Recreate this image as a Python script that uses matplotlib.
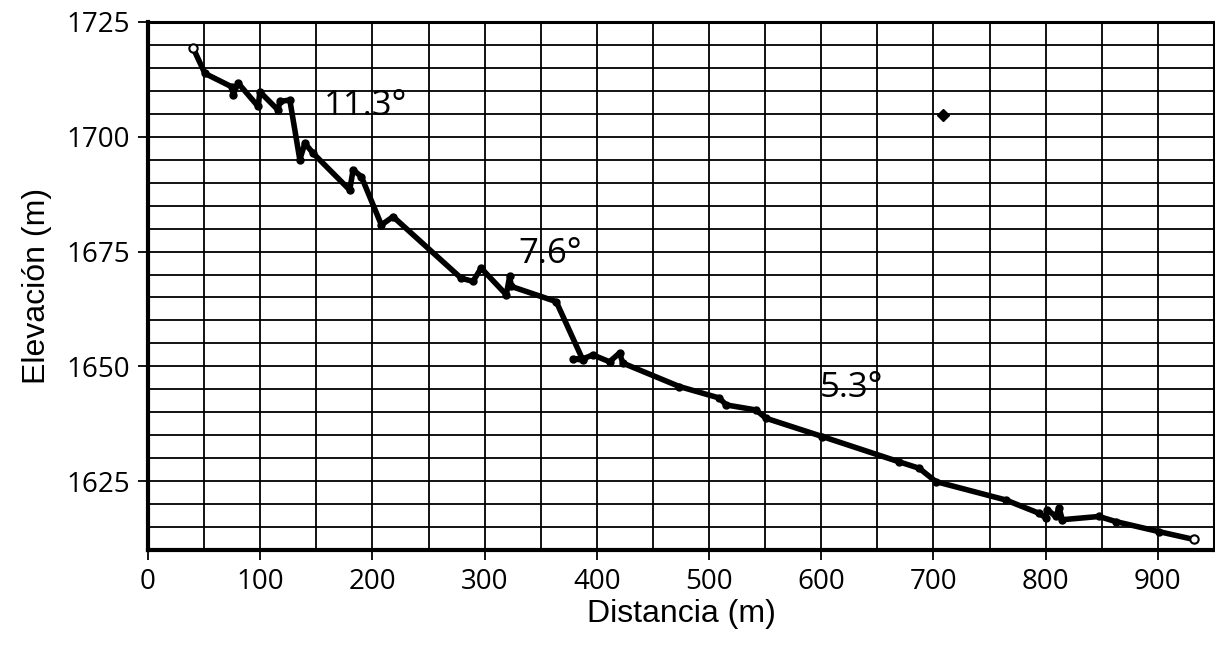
import matplotlib.pyplot as plt
import numpy as np

# perfil de la ladera
distancia = [40.3, 50.7, 74.5, 75.9, 80.3, 98.2, 99.7, 116.0, 117.5, 126.4,
             135.3, 139.8, 147.2, 179.8, 182.8, 190.2, 208.0, 218.4, 279.1, 289.6,
             296.9, 319.3, 322.3, 323.8, 363.8, 387.5, 379.0, 387.5, 396.4, 411.3,
             420.2, 423.2, 473.6, 509.2, 515.2, 541.8, 550.7, 601.1, 669.4, 687.3,
             702.1, 764.4, 794.1, 800.0, 801.5, 808.9, 811.9, 814.8, 847.5, 862.3,
             901.0, 932.0]
elevacion = [1719.3, 1713.8, 1710.9, 1709.1, 1711.7, 1706.6, 1709.8, 1705.8, 1707.7, 1708.0,
             1695.0, 1698.6, 1696.4, 1688.4, 1692.8, 1691.3, 1680.8, 1682.6, 1669.2, 1668.5,
             1671.4, 1665.6, 1669.6, 1667.4, 1664.1, 1651.4, 1651.6, 1651.6, 1652.5, 1651.0,
             1652.9, 1650.7, 1645.6, 1643.1, 1641.6, 1640.5, 1638.7, 1634.7, 1629.2, 1627.8,
             1624.9, 1620.9, 1618.0, 1617.0, 1618.8, 1617.3, 1619.2, 1616.6, 1617.3, 1616.2,
             1614.0, 1612.3]

# punto aislado
punto_x = [708.1]
punto_y = [1704.8]

# pendientes
etiquetas = ['11.3°', '7.6°', '5.3°']
etiq_x = [157, 330, 599]
etiq_y = [1704.8, 1672.5, 1643.4]

xticks = np.arange(0, 901, 100)
yticks = [1625, 1650, 1675, 1700, 1725]

fig = plt.figure(figsize=(12.15, 6.47), dpi=100)
ax = fig.add_axes([148/1215, 1 - 550/647, (1214 - 148)/1215, (550 - 22)/647])

ax.plot(distancia, elevacion, color='black', lw=4, marker='o', ms=5,
        solid_joinstyle='round', zorder=3)
ax.plot([distancia[0], distancia[-1]], [elevacion[0], elevacion[-1]], 'o',
        mfc='white', mec='black', ms=6, mew=1.5, zorder=4)
ax.plot(punto_x, punto_y, marker='D', color='black', ms=6, ls='none', zorder=4)

for t, x, y in zip(etiquetas, etiq_x, etiq_y):
    ax.text(x, y, t, fontsize=25, family='Open Sans', ha='left', va='baseline', zorder=5)

ax.set_xlim(0, 950)
ax.set_ylim(1610, 1725)
ax.set_xticks(xticks)
ax.set_yticks(yticks)
ax.set_xticks(np.arange(0, 951, 50), minor=True)
ax.set_yticks(np.arange(1610, 1726, 5), minor=True)
ax.grid(True, which='both', color='black', lw=1.3)
ax.set_axisbelow(True)

ax.tick_params(which='major', length=7, width=1.3, pad=6, labelsize=20)
ax.tick_params(which='minor', length=0)
for lab in ax.get_xticklabels() + ax.get_yticklabels():
    lab.set_family('Open Sans')

for s in ['left', 'bottom']:
    ax.spines[s].set_linewidth(3)
ax.spines['top'].set_linewidth(2.2)
ax.spines['right'].set_linewidth(2.2)

ax.set_xlabel('Distancia (m)', fontsize=23, family='Liberation Sans', labelpad=2)
ax.set_ylabel('Elevación (m)', fontsize=23, family='Liberation Sans', labelpad=10)

fig.savefig('out.png', dpi=100)
